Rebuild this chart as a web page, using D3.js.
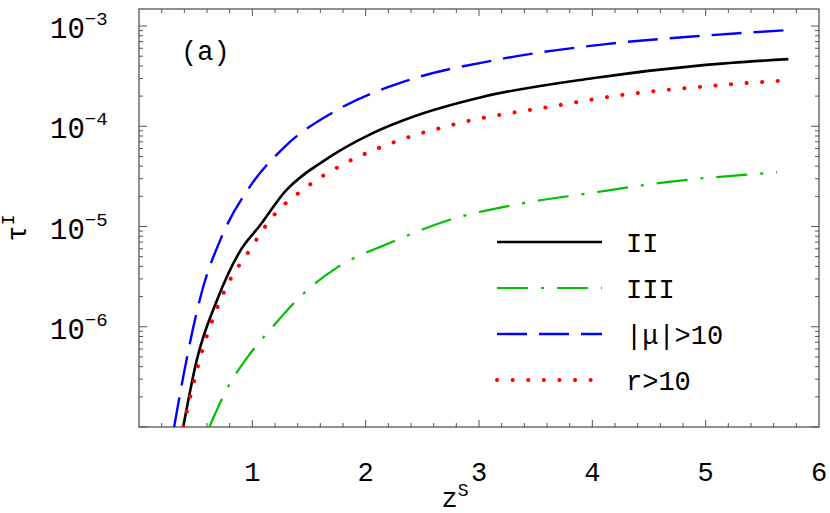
<!DOCTYPE html>
<html><head><meta charset="utf-8">
<script src="https://cdn.jsdelivr.net/npm/d3@7"></script>
<style>body{margin:0;background:#fff}</style>
</head><body>
<svg id="c" width="830" height="513"></svg>
<script>
// curve samples: z values and log10(tau)
var zII   = [0.39, 0.51, 0.69, 0.9, 1.06, 1.29, 1.65, 2.04, 2.43, 3.02, 4.0, 4.98, 5.73];
var tII   = [-7, -6.33, -5.73, -5.23, -5, -4.65, -4.33, -4.08, -3.9, -3.71, -3.52, -3.39, -3.33];
var zIII  = [0.62, 0.8, 0.94, 1.18, 1.45, 1.76, 2.2, 2.75, 3.33, 3.96, 4.71, 5.63];
var tIII  = [-7, -6.57, -6.33, -6, -5.67, -5.4, -5.17, -4.93, -4.78, -4.67, -4.55, -4.46];
var zMu   = [0.31, 0.39, 0.55, 0.73, 0.98, 1.29, 1.76, 2.35, 3.14, 4.12, 4.94, 5.73];
var tMu   = [-7, -6.5, -5.67, -5.1, -4.6, -4.2, -3.83, -3.55, -3.34, -3.18, -3.1, -3.04];
var zR    = [0.39, 0.55, 0.76, 0.98, 1.18, 1.45, 1.8, 2.2, 2.82, 3.65, 4.31, 5.02, 5.73];
var tR    = [-7, -6.27, -5.63, -5.23, -4.9, -4.63, -4.38, -4.18, -3.97, -3.8, -3.68, -3.6, -3.54];
var xTicks = [1, 2, 3, 4, 5, 6];
var yTicks = [-6, -5, -4, -3];
var labels = ["II", "III", "|\u03bc|>10", "r>10"];

var series = [
  {z: zII, t: tII, color: "#000", dash: null, w: 2.6},
  {z: zIII, t: tIII, color: "#00c000", dash: "31,13,3,13", w: 2.2},
  {z: zMu, t: tMu, color: "#0000ff", dash: "30,12", w: 2.4},
  {z: zR, t: tR, color: "#ff0000", dash: "0.1,15.5", w: 4}
];

var L = 139, R = 819, T = 9, B = 427;
var svg = d3.select("#c");
var font = "'Liberation Mono', monospace";
var x = d3.scaleLinear().domain([0, 6]).range([L, R]);
var y = d3.scaleLinear().domain([-7, -2.83]).range([B, T]);

// minor + major ticks
var g = svg.append("g");
d3.range(0.2, 6.0, 0.2).forEach(function (v) {
  var major = Math.abs(v - Math.round(v)) < 1e-6;
  var len = major ? 7 : 4;
  g.append("line").attr("x1", x(v)).attr("x2", x(v)).attr("y1", B).attr("y2", B - len);
  g.append("line").attr("x1", x(v)).attr("x2", x(v)).attr("y1", T).attr("y2", T + len);
});
for (var d = -7; d <= -3; d++) {
  for (var m = 1; m <= 9; m++) {
    var lv = d + Math.log10(m);
    if (lv > -2.83) continue;
    var len = m === 1 ? 8 : 4;
    g.append("line").attr("x1", L).attr("x2", L + len).attr("y1", y(lv)).attr("y2", y(lv));
    g.append("line").attr("x1", R).attr("x2", R - len).attr("y1", y(lv)).attr("y2", y(lv));
  }
}
g.selectAll("line").attr("stroke", "#555").attr("stroke-width", 1);

svg.append("rect").attr("x", L).attr("y", T).attr("width", R - L).attr("height", B - T)
  .attr("fill", "none").attr("stroke", "#555").attr("stroke-width", 1.3);

svg.selectAll(".xt").data(xTicks).enter().append("text")
  .attr("x", function (d) { return x(d); }).attr("y", 481)
  .attr("text-anchor", "middle").attr("font-family", font).attr("font-size", 27)
  .text(function (d) { return d; });

var yt = svg.selectAll(".yt").data(yTicks).enter().append("text")
  .attr("x", 50).attr("y", function (d) { return y(d) + 12; })
  .attr("font-family", font).attr("font-size", 29);
yt.append("tspan").text("10");
yt.append("tspan").attr("dy", -13).attr("font-size", 19).text(function (d) { return "\u2212" + (-d); });

// axis labels
var xl = svg.append("text").attr("x", 455).attr("y", 507).attr("text-anchor", "middle")
  .attr("font-family", font).attr("font-size", 27);
xl.append("tspan").text("z");
xl.append("tspan").attr("dy", -11).attr("font-size", 18).text("S");
var yl = svg.append("text").attr("transform", "translate(26,228) rotate(-90)")
  .attr("text-anchor", "middle").attr("font-family", font).attr("font-size", 27);
yl.append("tspan").text("\u03c4");
yl.append("tspan").attr("dy", -12).attr("font-size", 18).text("I");

svg.append("text").attr("x", 181).attr("y", 60).attr("font-family", font)
  .attr("font-size", 27).text("(a)");

svg.append("clipPath").attr("id", "cp").append("rect")
  .attr("x", L).attr("y", T).attr("width", R - L).attr("height", B - T);

var line = d3.line().curve(d3.curveMonotoneX)
  .x(function (d) { return x(d[0]); }).y(function (d) { return y(d[1]); });

series.forEach(function (s, i) {
  svg.append("path").attr("clip-path", "url(#cp)")
    .attr("d", line(d3.zip(s.z, s.t)))
    .attr("fill", "none").attr("stroke", s.color).attr("stroke-width", s.w)
    .attr("stroke-linecap", i === 3 ? "round" : "butt")
    .attr("stroke-dasharray", s.dash);
});

// legend
var legY = [242, 288, 334, 380];
series.forEach(function (s, i) {
  svg.append("line").attr("x1", 497).attr("x2", 602).attr("y1", legY[i]).attr("y2", legY[i])
    .attr("stroke", s.color).attr("stroke-width", s.w)
    .attr("stroke-linecap", i === 3 ? "round" : "butt")
    .attr("stroke-dasharray", s.dash);
  svg.append("text").attr("x", 626).attr("y", legY[i] + 10).attr("font-family", font)
    .attr("font-size", 27).text(labels[i]);
});
</script>
</body></html>
